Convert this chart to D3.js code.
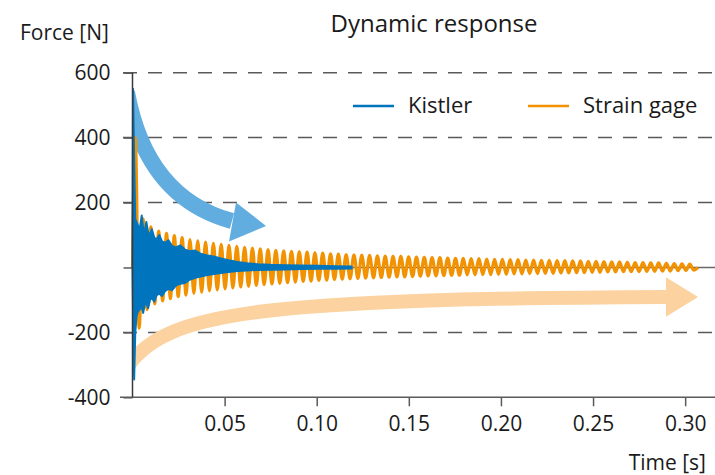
<!DOCTYPE html>
<html lang="en">

<head>
    <meta charset="UTF-8">
    <title>Dynamic response</title>

    <style>
        body {
            margin: 0;
            background: #fff;
        }

        #chart text {
            font-family: "Open Sans", sans-serif;
            fill: #1a1a1a;
        }

        .grid {
            stroke: #5a5a5a;
            stroke-width: 1.5;
            stroke-dasharray: 14, 11;
        }
    </style>
</head>

<body>

    <svg id="chart"></svg>

</body>
<script src="https://d3js.org/d3.v7.min.js"></script>
<script>
    // axis ticks
    const timeTicks = [0.05, 0.10, 0.15, 0.20, 0.25, 0.30];
    const forceTicks = [600, 400, 200, 0, -200, -400];
    const gridForces = [600, 400, 200, -200];

    // Strain gage: successive peaks / troughs
    const gageStart = 0.0015;
    const gageHalfPeriod = 0.00212;
    const gageEnd = 0.307;
    const gagePeaks = [400, 150, 125, 112, 105, 98, 92, 86, 82, 78,
        74, 71, 68, 65, 62, 60, 57, 55, 53, 51,
        50, 48, 47, 45, 44, 42, 41, 40, 39, 38,
        37, 36, 35, 34, 34, 33, 32, 31, 30, 30,
        29, 28, 28, 27, 27, 26, 25, 25, 24, 24,
        23, 23, 22, 22, 21, 21, 20, 20, 19, 19,
        18, 17, 17, 16, 15, 15, 14, 14, 13, 12,
        11, 10];
    const gageTroughs = [-187, -130, -112, -103, -96, -90, -85, -80, -76, -72,
        -69, -66, -63, -60, -58, -55, -53, -51, -49, -47,
        -45, -43, -42, -40, -39, -37, -36, -35, -34, -33,
        -32, -31, -30, -29, -29, -28, -27, -26, -26, -25,
        -24, -24, -23, -23, -22, -22, -21, -21, -20, -20,
        -19, -19, -18, -18, -17, -17, -16, -16, -15, -15,
        -14, -14, -13, -13, -13, -12, -12, -11, -11, -10,
        -9, -8];

    // Kistler: envelope of the fast oscillation
    const kistlerTime = [0, 0.0003, 0.0009, 0.0015, 0.0022, 0.0030, 0.0040, 0.0050, 0.0058, 0.0066,
        0.0075, 0.0085, 0.0095, 0.0105, 0.0118, 0.0130, 0.0145, 0.0160, 0.0178, 0.0195,
        0.0215, 0.0235, 0.0260, 0.0285, 0.0310, 0.0340, 0.0370, 0.0400, 0.0440, 0.0480,
        0.0520, 0.0570, 0.0620, 0.0680, 0.0750, 0.0830, 0.0920, 0.1010, 0.1100, 0.1190];
    const kistlerHigh = [0, 550, 330, 150, 140, 128, 122, 160, 118, 110,
        140, 108, 100, 118, 92, 86, 100, 80, 76, 84,
        66, 62, 68, 55, 50, 52, 42, 38, 34, 28,
        22, 17, 13, 10, 8, 7, 6, 5, 4, 3];
    const kistlerLow = [0, -150, -345, -200, -150, -135, -128, -122, -140, -115,
        -110, -125, -100, -94, -105, -86, -80, -88, -72, -66,
        -70, -56, -50, -48, -38, -32, -28, -24, -20, -17,
        -14, -11, -9, -8, -7, -6, -5, -4, -4, -3];

    const seriesNames = ["Kistler", "Strain gage"];
    const seriesColors = ["#0075be", "#f39200"];

    // annotation arrows, in data units [time, force]; the tails start left of the axis and get clipped
    const blueArrow = { shaft: [[-0.003, 540], [0.0075, 215], [0.054, 143]], head: [[0.0562, 200], [0.0725, 128], [0.0524, 80]] };
    const orangeArrow = { shaft: [[-0.002, -300], [0.019, -137], [0.0692, -97], [0.2896, -91]], head: [[0.2896, -30], [0.307, -91], [0.2896, -152]] };

    const width = 715;
    const height = 475;

    const svg = d3.select("#chart")
        .attr("width", width)
        .attr("height", height);

    const x = d3.scaleLinear().domain([0, 0.3162]).range([132.5, width]);
    const y = d3.scaleLinear().domain([-400, 600]).range([397.3, 72.7]);

    svg.append("clipPath")
        .attr("id", "plot-clip")
        .append("rect")
        .attr("x", x(0) + 1)
        .attr("y", 0)
        .attr("width", width - x(0))
        .attr("height", height);

    // grid
    svg.append("g")
        .selectAll("line")
        .data(gridForces)
        .join("line")
        .attr("class", "grid")
        .attr("x1", 123)
        .attr("x2", width)
        .attr("y1", d => y(d))
        .attr("y2", d => y(d));

    svg.append("line")
        .attr("x1", x(0)).attr("x2", width)
        .attr("y1", y(0)).attr("y2", y(0))
        .attr("stroke", "#6a6a6a")
        .attr("stroke-width", 1.5);

    // arrows
    const arrowPath = (a) => {
        const p = a.shaft.map(d => [x(d[0]), y(d[1])]);
        if (p.length === 3)
            return `M${p[0]}Q${p[1]} ${p[2]}`;
        return `M${p[0]}C${p[1]} ${p[2]} ${p[3]}`;
    };
    const headPoints = (a) => a.head.map(d => [x(d[0]), y(d[1])].join(",")).join(" ");

    const arrows = svg.append("g").attr("clip-path", "url(#plot-clip)");

    arrows.append("path")
        .attr("d", arrowPath(orangeArrow))
        .attr("fill", "none")
        .attr("stroke", "#fcd3a0")
        .attr("stroke-width", 14);
    arrows.append("polygon")
        .attr("points", headPoints(orangeArrow))
        .attr("fill", "#fcd3a0");

    arrows.append("path")
        .attr("d", arrowPath(blueArrow))
        .attr("fill", "none")
        .attr("stroke", "#62ade0")
        .attr("stroke-width", 16);
    arrows.append("polygon")
        .attr("points", headPoints(blueArrow))
        .attr("fill", "#62ade0");

    // strain gage line
    const gagePoints = [[0, 0]];
    gagePeaks.forEach((p, i) => {
        gagePoints.push([gageStart + 2 * i * gageHalfPeriod, p]);
        gagePoints.push([gageStart + (2 * i + 1) * gageHalfPeriod, gageTroughs[i]]);
    });
    gagePoints.push([gageEnd, 0]);

    svg.append("path")
        .datum(gagePoints)
        .attr("fill", "none")
        .attr("stroke", seriesColors[1])
        .attr("stroke-width", 3.2)
        .attr("stroke-linejoin", "round")
        .attr("d", d3.line()
            .x(d => x(d[0]))
            .y(d => y(d[1]))
            .curve(d3.curveMonotoneX));

    // kistler band
    const kistler = kistlerTime.map((t, i) => ({ t: t, hi: kistlerHigh[i], lo: kistlerLow[i] }));

    svg.append("path")
        .datum(kistler)
        .attr("fill", seriesColors[0])
        .attr("stroke", seriesColors[0])
        .attr("stroke-width", 2)
        .attr("stroke-linejoin", "round")
        .attr("d", d3.area()
            .x(d => x(d.t))
            .y0(d => y(d.lo))
            .y1(d => y(d.hi)));

    // axes
    const yAxis = svg.append("g")
        .attr("transform", `translate(${x(0)},0)`)
        .call(d3.axisLeft(y).tickValues(forceTicks).tickSize(9).tickPadding(13)
            .tickFormat(d => d === 0 ? "" : String(d)));
    yAxis.select(".domain").remove();
    yAxis.selectAll("line").attr("stroke", "#5a5a5a").attr("stroke-width", 1.5);
    yAxis.selectAll("text").style("font-size", "21px");

    const xAxis = svg.append("g")
        .attr("transform", `translate(0,${y(-400)})`)
        .call(d3.axisBottom(x).tickValues(timeTicks).tickSize(9).tickPadding(10)
            .tickFormat(d3.format(".2f")));
    xAxis.select(".domain").remove();
    xAxis.selectAll("line").attr("stroke", "#5a5a5a").attr("stroke-width", 1.5);
    xAxis.selectAll("text").style("font-size", "21px");

    svg.append("line")
        .attr("x1", 120).attr("x2", width)
        .attr("y1", y(-400)).attr("y2", y(-400))
        .attr("stroke", "#5a5a5a").attr("stroke-width", 1.5);
    svg.append("line")
        .attr("x1", x(0)).attr("x2", x(0))
        .attr("y1", y(600)).attr("y2", y(-400))
        .attr("stroke", "#3a3a3a").attr("stroke-width", 1.5);

    // titles
    svg.append("text")
        .attr("x", 434).attr("y", 32)
        .attr("text-anchor", "middle")
        .style("font-size", "24px")
        .text("Dynamic response");
    svg.append("text")
        .attr("x", 20).attr("y", 40)
        .style("font-size", "21px")
        .text("Force [N]");
    svg.append("text")
        .attr("x", 706).attr("y", 470)
        .attr("text-anchor", "end")
        .style("font-size", "21px")
        .text("Time [s]");

    // legend
    const legendX = [353, 528];
    const legend = svg.append("g")
        .selectAll("g")
        .data(seriesNames)
        .join("g")
        .attr("transform", (d, i) => `translate(${legendX[i]},106)`);
    legend.append("line")
        .attr("x1", 0).attr("x2", 41)
        .attr("stroke", (d, i) => seriesColors[i])
        .attr("stroke-width", 2.5);
    legend.append("text")
        .attr("x", 55).attr("y", 7)
        .style("font-size", "22px")
        .text(d => d);
</script>

</html>
